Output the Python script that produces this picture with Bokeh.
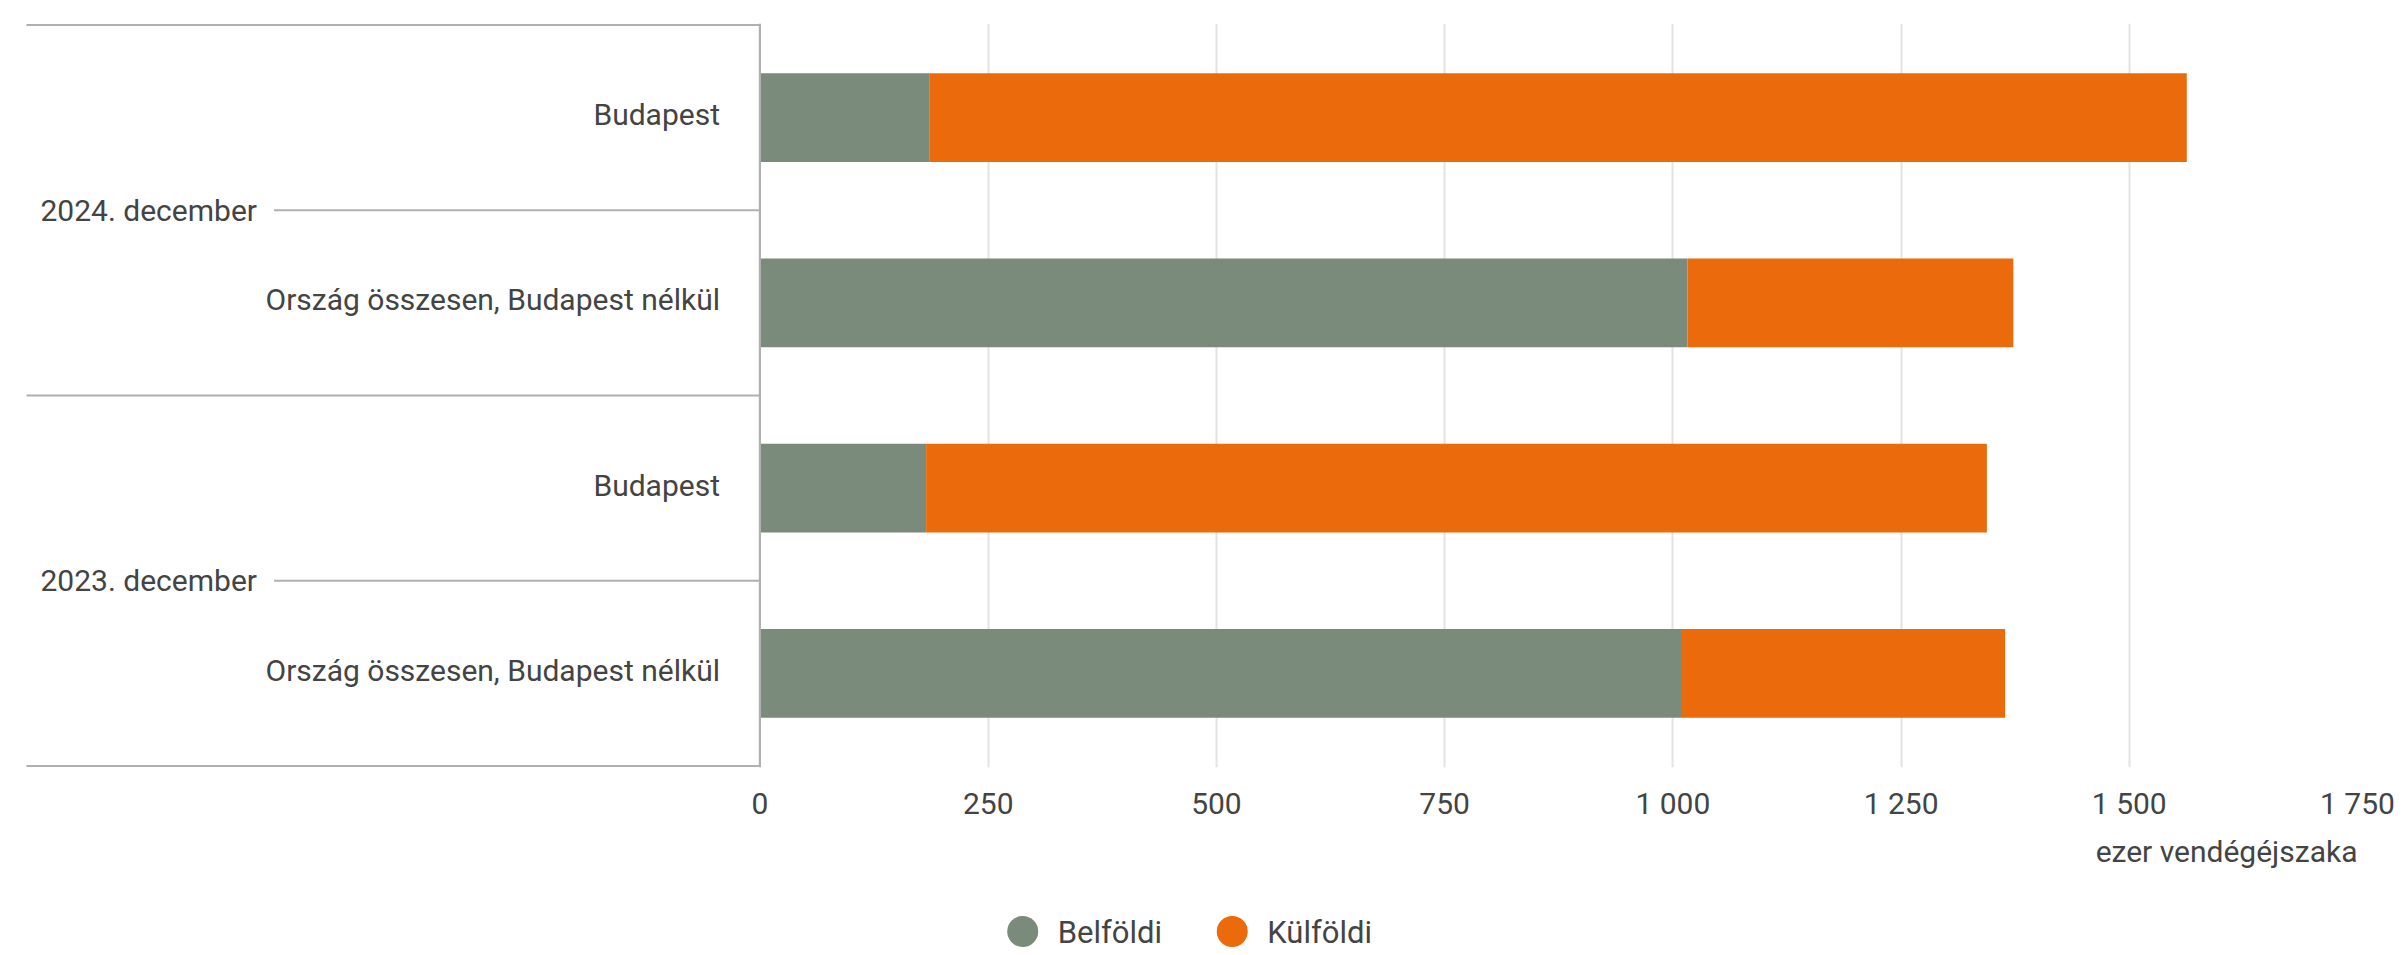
import math
from bokeh.plotting import figure
from bokeh.layouts import column
from bokeh.models import (ColumnDataSource, FactorRange, Range1d, FixedTicker, Span, Title)
from bokeh.core.properties import value
from bokeh.embed import file_html
from bokeh.resources import INLINE

# ---------------- data ----------------
groups = ["2024. december", "2023. december"]
regions = ["Budapest", "Ország összesen, Budapest nélkül"]
series = ["Belföldi", "Külföldi"]
belfoldi = [186, 1016, 182, 1010]      # 2024 Bp, 2024 Ország, 2023 Bp, 2023 Ország
kulfoldi = [1377, 357, 1162, 354]
tick_values = [0, 250, 500, 750, 1000, 1250, 1500, 1750]
tick_labels = ["0", "250", "500", "750", "1 000", "1 250", "1 500", "1 750"]
axis_title = "ezer vendégéjszaka"
colors = ["#7a8a7b", "#eb6a0b"]

# ---------------- style / layout ----------------
FONT = "Roboto"
FSIZE = "30px"
LEG_FSIZE = "31px"
TXT = "#444444"
LINE = "#b0b0b0"
GRID = "#e3e3e3"
XMIN = -803.5          # room on the left for the category labels
W = 2403
H_MAIN = 895
H_LEG = 60
LEG_X = [1027, 1243]   # legend swatch centres (px)
LEG_Y = 24             # legend row height from the bottom (px)

factors = [(g, r) for g in groups for r in regions]
source = ColumnDataSource(data={
    "cat": factors,
    "reg": [f[1] for f in factors],
    series[0]: belfoldi,
    series[1]: kulfoldi,
})
gsrc = ColumnDataSource(data={"g": groups})

p = figure(width=W, height=H_MAIN, output_backend="svg", toolbar_location=None,
           y_range=FactorRange(factors=list(reversed(factors)), factor_padding=0,
                               group_padding=0, range_padding=0.004),
           x_range=Range1d(XMIN, tick_values[-1]),
           min_border_left=26, min_border_right=46, min_border_top=23,
           min_border_bottom=H_MAIN - 767)
p.outline_line_color = None
p.background_fill_color = "white"
p.border_fill_color = "white"

# axes / grid
p.yaxis.visible = False
p.ygrid.visible = False
xa = p.xaxis[0]
xa.ticker = FixedTicker(ticks=tick_values)
xa.major_label_overrides = dict(zip(tick_values, tick_labels))
xa.axis_line_color = None
xa.major_tick_line_color = None
xa.minor_tick_line_color = None
xa.major_label_text_font = FONT
xa.major_label_text_font_size = FSIZE
xa.major_label_text_color = TXT
xa.major_label_standoff = 12

p.xgrid.ticker = FixedTicker(ticks=tick_values)
p.xgrid.grid_line_color = GRID
p.xgrid.grid_line_width = 2

# axis title, right-aligned under the last tick
p.add_layout(Title(text=axis_title, align="right", standoff=17, text_font=FONT,
                   text_font_size=FSIZE, text_font_style="normal",
                   text_color=TXT), "below")

# bars
p.hbar_stack(series, y="cat", height=0.48, color=colors, line_color=None, source=source)

# category labels
p.text(x=0, y="cat", text="reg", source=source, x_offset=-40, y_offset=-3,
       text_align="right", text_baseline="middle", text_font=value(FONT),
       text_font_size=value(FSIZE), text_color=TXT)
p.text(x=XMIN, y="g", text="g", source=gsrc, x_offset=14, text_align="left",
       text_baseline="middle", text_font=value(FONT), text_font_size=value(FSIZE),
       text_color=TXT)

# hierarchical label lines
p.ray(x=0, y="g", length=486, length_units="screen", angle=math.pi,
      line_color=LINE, line_width=2, source=gsrc)
sep_y = [len(regions) * i for i in range(len(groups) + 1)]
p.ray(x=[0] * len(sep_y), y=sep_y, length=0, angle=math.pi,
      line_color=LINE, line_width=2)
p.add_layout(Span(location=0, dimension="height", line_color=LINE, line_width=2))

# ---------------- legend row ----------------
lf = figure(width=W, height=H_LEG, output_backend="svg", toolbar_location=None,
            x_range=Range1d(0, W), y_range=Range1d(0, H_LEG),
            x_axis_type=None, y_axis_type=None,
            min_border_left=0, min_border_right=0, min_border_top=0, min_border_bottom=0)
lf.outline_line_color = None
lf.grid.visible = False
lsrc = ColumnDataSource(data={"x": LEG_X, "y": [LEG_Y] * len(series),
                              "label": series, "color": colors})
lf.scatter(x="x", y="y", marker="circle", size=31, color="color", line_color=None,
           source=lsrc)
lf.text(x="x", y="y", text="label", source=lsrc, x_offset=35, y_offset=1,
        text_align="left", text_baseline="middle", text_font=value(FONT),
        text_font_size=value(LEG_FSIZE), text_color=TXT)

layout = column(p, lf, spacing=0)
open("out.html", "w").write(file_html(layout, INLINE))
